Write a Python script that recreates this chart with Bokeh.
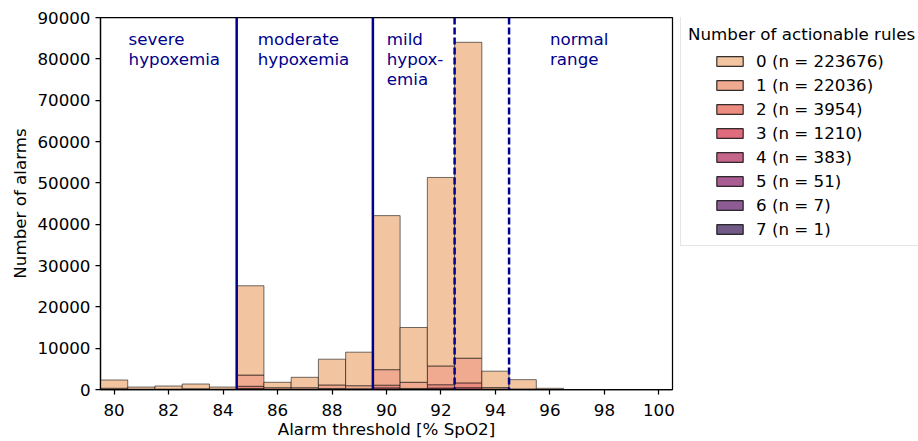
from bokeh.plotting import figure
from bokeh.layouts import row
from bokeh.models import Span, Legend, LegendItem, ColumnDataSource, Range1d, FixedTicker, BasicTickFormatter
from bokeh.core.properties import value
from bokeh.embed import file_html
from bokeh.resources import INLINE

# ---- data ----
bins = list(range(80, 101))
counts_0 = [2000, 500, 750, 1130, 500, 21600, 1310, 2510, 6230, 8110, 37270, 13250, 45600, 76430, 3980, 2230, 274, 2, 0, 0, 0]
counts_1 = [300, 100, 100, 200, 100, 2720, 340, 340, 850, 720, 3750, 1500, 4540, 5970, 340, 150, 16, 0, 0, 0, 0]
counts_2 = [0, 0, 0, 0, 0, 530, 100, 100, 190, 150, 650, 170, 810, 1150, 104, 0, 0, 0, 0, 0, 0]
counts_3 = [0, 0, 0, 0, 0, 180, 0, 0, 45, 35, 290, 68, 250, 330, 12, 0, 0, 0, 0, 0, 0]
counts_4 = [0, 0, 0, 0, 0, 60, 0, 0, 15, 15, 95, 7, 86, 105, 0, 0, 0, 0, 0, 0, 0]
counts_5 = [0, 0, 0, 0, 0, 10, 0, 0, 0, 0, 12, 5, 11, 13, 0, 0, 0, 0, 0, 0, 0]
counts_6 = [0, 0, 0, 0, 0, 0, 0, 0, 0, 0, 3, 0, 3, 1, 0, 0, 0, 0, 0, 0, 0]
counts_7 = [0, 0, 0, 0, 0, 0, 0, 0, 0, 0, 0, 0, 0, 1, 0, 0, 0, 0, 0, 0, 0]
rule_counts = [0, 1, 2, 3, 4, 5, 6, 7]
n_per_rule = [223676, 22036, 3954, 1210, 383, 51, 7, 1]

solid_thresholds = [84.5, 89.5]
dashed_thresholds = [92.5, 94.5]
region_bounds = [(79.5, 84.5), (84.5, 89.5), (89.5, 92.5), (94.5, 100.0)]
region_names = ["severe\nhypoxemia", "moderate\nhypoxemia", "mild\nhypox-\nemia", "normal\nrange"]

x_ticks = list(range(80, 101, 2))
y_ticks = list(range(0, 90001, 10000))

# ---- styling ----
colors = ["#f2c4a0", "#f0aa8f", "#ec8c80", "#de6c7d", "#c46589", "#a95d93", "#8d5c93", "#715a86"]
FONT = "DejaVu Sans"
FS = "16.7px"
NAVY = "#00008b"

all_counts = [counts_0, counts_1, counts_2, counts_3, counts_4, counts_5, counts_6, counts_7]

p = figure(frame_width=572, frame_height=372,
           x_range=Range1d(79.5, 100.5), y_range=Range1d(0, 90000),
           output_backend="svg", toolbar_location=None,
           min_border_left=100, min_border_right=8, min_border_top=17, min_border_bottom=51)

# stacked: hue 0 on top, hue 7 at bottom
n_bins = len(bins)
base = [0] * n_bins
for k in reversed(range(len(all_counts))):
    c = all_counts[k]
    top = [b + v for b, v in zip(base, c)]
    src = ColumnDataSource(dict(left=[b - 0.5 for b in bins], right=[b + 0.5 for b in bins],
                                bottom=list(base), top=top))
    p.quad(left="left", right="right", bottom="bottom", top="top", source=src,
           fill_color=colors[k], fill_alpha=1.0, line_color="black", line_alpha=0.55, line_width=1)
    base = top

for t in solid_thresholds:
    p.add_layout(Span(location=t, dimension="height", line_color=NAVY, line_width=2.5))
for t in dashed_thresholds:
    p.add_layout(Span(location=t, dimension="height", line_color=NAVY, line_width=2.5, line_dash="7 3"))

centers = [(a + b) / 2 for a, b in region_bounds]
text_offsets = [-40, -47, -27, -34]
p.text(x=centers, y=[87300] * len(centers), text=region_names, x_offset=text_offsets,
       text_font=value(FONT), text_font_size=FS, text_color=NAVY,
       text_baseline="top", text_align="left", text_line_height=1.0)

p.xgrid.visible = False
p.ygrid.visible = False
p.outline_line_color = "black"
p.outline_line_width = 1.25
p.outline_line_alpha = 1.0

p.xaxis.ticker = FixedTicker(ticks=x_ticks)
p.yaxis.ticker = FixedTicker(ticks=y_ticks)
p.yaxis.formatter = BasicTickFormatter(use_scientific=False)
p.xaxis.axis_label = "Alarm threshold [% SpO2]"
p.yaxis.axis_label = "Number of alarms"
for ax in (p.xaxis, p.yaxis):
    ax.axis_line_color = "black"
    ax.axis_line_width = 1.25
    ax.major_tick_line_color = "black"
    ax.major_tick_line_width = 1.25
    ax.major_tick_out = 5
    ax.major_tick_in = 0
    ax.minor_tick_line_color = None
    ax.major_label_text_font = FONT
    ax.major_label_text_font_size = FS
    ax.major_label_text_color = "black"
    ax.axis_label_text_font = FONT
    ax.axis_label_text_font_size = FS
    ax.axis_label_text_font_style = "normal"
    ax.axis_label_text_color = "black"
p.xaxis.major_label_standoff = 9
p.yaxis.major_label_standoff = 5
p.xaxis.axis_label_standoff = 0
p.yaxis.axis_label_standoff = 4

# ---- legend panel (separate svg figure to the right) ----
leg = figure(frame_width=238, frame_height=372, x_range=Range1d(0, 1), y_range=Range1d(0, 1),
             x_axis_type=None, y_axis_type=None, output_backend="svg", toolbar_location=None,
             min_border_left=0, min_border_right=0, min_border_top=17, min_border_bottom=51,
             outline_line_color=None)
leg.xgrid.visible = False
leg.ygrid.visible = False

labels = [f"{k} (n = {n})" for k, n in zip(rule_counts, n_per_rule)]
box_items = []
swatch_items = []
for k, lab in enumerate(labels):
    # placeholder glyphs lie outside the visible range; only their legend swatches are shown
    ghost = leg.quad(left=[-2], right=[-1], bottom=[-2], top=[-1], fill_alpha=0, line_alpha=0)
    swatch = leg.quad(left=[-2], right=[-1], bottom=[-2], top=[-1], fill_color=colors[k], fill_alpha=1.0,
                      line_color="black", line_alpha=0.8, line_width=1.2)
    box_items.append(LegendItem(label=" ", renderers=[ghost]))
    swatch_items.append(LegendItem(label=lab, renderers=[swatch]))

common = dict(label_text_font=FONT, label_text_font_size=FS, label_text_color="black",
              glyph_width=33, glyph_height=12, label_height=20, label_standoff=10,
              spacing=4, margin=0)
box = Legend(items=box_items, location=(0, 143), title="Number of actionable rules",
             title_text_font=FONT, title_text_font_size=FS, title_text_font_style="normal",
             title_text_color="black", title_standoff=6, padding=7,
             border_line_color="#cccccc", border_line_width=1, background_fill_color="white",
             background_fill_alpha=1.0, **common)
swatches = Legend(items=swatch_items, location=(33, 150), padding=0,
                  border_line_color=None, background_fill_alpha=0, **common)
leg.add_layout(box)
leg.add_layout(swatches)

layout = row(p, leg)
open("out.html", "w").write(file_html(layout, INLINE))
